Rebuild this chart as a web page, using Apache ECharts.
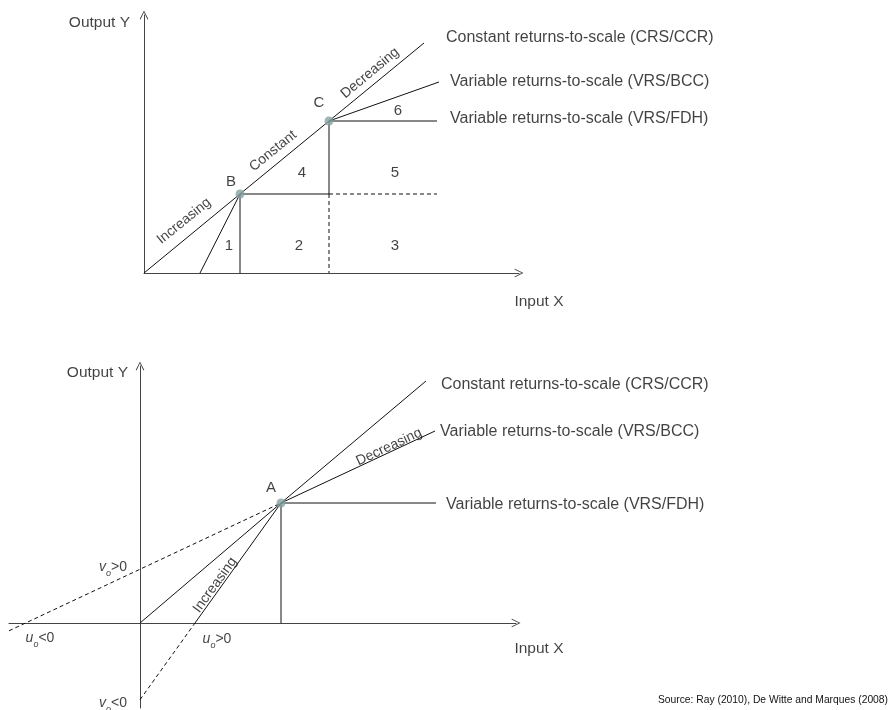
<!DOCTYPE html>
<html>
<head>
<meta charset="utf-8">
<script src="https://cdn.jsdelivr.net/npm/echarts@6/dist/echarts.min.js"></script>
<style>html,body{margin:0;padding:0;background:#fff}#c{width:890px;height:710px}</style>
</head>
<body>
<div id="c"></div>
<script>
// ---------- Top diagram (CRS / VRS-BCC / VRS-FDH with points B and C) ----------
const topOrigin = [0, 0];
const topB = [9.6, 7.9];
const topC = [18.5, 15.2];
const topCrsEnd = [28, 23];
const topVrsStart = [5.6, 0];
const topBccEnd = [29.5, 19.1];
const topFdhEnd = [29.3, 15.2];
const topBFloor = [9.6, 0];
const topCMid = [18.5, 7.9];
const topCFloor = [18.5, 0];
const topDashEnd = [29.3, 7.9];

// ---------- Bottom diagram (point A, intercepts) ----------
const botOrigin = [0, 0];
const botA = [14.1, 12.0];
const botCrsEnd = [28.6, 24.2];
const botSteepXCross = [5.5, 0];
const botSteepYCross = [0, -7.67];
const botShallowLeft = [-13.1, -0.78];
const botShallowRight = [29.5, 19.2];
const botFdhEnd = [29.6, 12.0];
const botAFloor = [14.1, 0];

// ---------- Texts ----------
const frontierNames = ['Constant returns-to-scale (CRS/CCR)', 'Variable returns-to-scale (VRS/BCC)', 'Variable returns-to-scale (VRS/FDH)'];
const regionNames = ['1', '2', '3', '4', '5', '6'];
const scaleNames = ['Increasing', 'Constant', 'Decreasing'];
const pointNames = ['A', 'B', 'C'];
const axisNames = ['Output Y', 'Input X'];
const sourceText = 'Source: Ray (2010), De Witte and Marques (2008)';

const LINE = '#111';
const AXIS = '#444';
const TXT = '#111';
const DOT = '#86a3a3';
const FONT = '"Liberation Sans", Arial, Helvetica, sans-serif';
const chevron = 'path://M0,9 L4.5,0 L9,9 L8.1,9.4 L4.5,1.9 L0.9,9.4 Z';

function seg(p, q, gi, dashed) {
  return {
    type: 'line', xAxisIndex: gi, yAxisIndex: gi,
    data: [p, q], showSymbol: false, symbol: 'none', silent: true,
    lineStyle: { color: LINE, width: 1, type: dashed ? [4, 3] : 'solid' },
    z: 3
  };
}

function lbl(text, x, y, opts) {
  opts = opts || {};
  return {
    value: [x, y],
    label: Object.assign({
      show: true, formatter: text, position: 'inside',
      color: TXT, fontSize: 15, fontFamily: FONT
    }, opts)
  };
}

function labelSeries(gi, items) {
  return {
    type: 'scatter', xAxisIndex: gi, yAxisIndex: gi, symbolSize: 0,
    clip: false, silent: true, data: items, z: 5
  };
}

function dotSeries(gi, pts) {
  return {
    type: 'scatter', xAxisIndex: gi, yAxisIndex: gi, symbolSize: 9, clip: false, silent: true,
    itemStyle: { color: DOT }, data: pts, z: 6
  };
}

const sub = (a, b) => '{v|' + a + '}{s|o}{n|' + b + '}';
const subRich = {
  v: { fontStyle: 'italic', fontSize: 14, color: TXT, fontFamily: FONT, lineHeight: 22, verticalAlign: 'middle' },
  s: { fontStyle: 'italic', fontSize: 9, color: TXT, fontFamily: FONT, lineHeight: 22, verticalAlign: 'bottom' },
  n: { fontSize: 14, color: TXT, fontFamily: FONT, lineHeight: 22, verticalAlign: 'middle' }
};

const rightL = { position: 'right', distance: 0, align: 'left', fontSize: 16 };
const leftL = { position: 'left', distance: 0, fontSize: 15.5 };
const rot = (deg) => ({ rotate: deg, fontSize: 14 });

function mkAxis(min, max, gi) {
  return {
    type: 'value', gridIndex: gi, min: min, max: max,
    axisLine: { show: true, onZero: true, lineStyle: { color: AXIS, width: 1 }, symbol: ['none', chevron], symbolSize: [9, 9] },
    axisTick: { show: false }, axisLabel: { show: false }, splitLine: { show: false }
  };
}

const option = {
  animation: false,
  backgroundColor: '#fff',
  textStyle: { fontFamily: FONT },
  title: {
    text: sourceText, right: -3, bottom: 0,
    textStyle: { fontSize: 10.3, fontWeight: 'normal', color: TXT, fontFamily: FONT }
  },
  grid: [
    { left: 144, top: 15, width: 375, height: 258 },
    { left: 9, top: 366, width: 507, height: 342 }
  ],
  xAxis: [mkAxis(0, 37.5, 0), mkAxis(-13.1, 37.6, 1)],
  yAxis: [mkAxis(0, 25.8, 0), mkAxis(-8.5, 25.7, 1)],
  series: [
    // top lines
    seg(topOrigin, topB, 0), seg(topB, topC, 0), seg(topC, topCrsEnd, 0),
    seg(topVrsStart, topB, 0), seg(topC, topBccEnd, 0), seg(topC, topFdhEnd, 0),
    seg(topBFloor, topB, 0), seg(topB, topCMid, 0), seg(topCMid, topDashEnd, 0, true),
    seg(topC, topCMid, 0), seg(topCMid, topCFloor, 0, true),
    dotSeries(0, [topB, topC]),
    labelSeries(0, [
      lbl(scaleNames[0], 4.0, 5.2, rot(39)),
      lbl(scaleNames[1], 12.9, 12.2, rot(39)),
      lbl(scaleNames[2], 22.6, 20.0, rot(40)),
      lbl(pointNames[1], 8.7, 9.1),
      lbl(pointNames[2], 17.5, 17.0),
      lbl(regionNames[0], 8.5, 2.7),
      lbl(regionNames[1], 15.5, 2.7),
      lbl(regionNames[2], 25.1, 2.7),
      lbl(regionNames[3], 15.8, 10.0),
      lbl(regionNames[4], 25.1, 10.0),
      lbl(regionNames[5], 25.4, 16.2),
      lbl(frontierNames[0], 30.2, 23.5, rightL),
      lbl(frontierNames[1], 30.6, 19.1, rightL),
      lbl(frontierNames[2], 30.6, 15.4, rightL),
      lbl(axisNames[0], -1.4, 25.0, leftL),
      lbl(axisNames[1], 39.5, -2.9, { fontSize: 15.5 })
    ]),
    // bottom lines
    seg(botOrigin, botA, 1), seg(botA, botCrsEnd, 1),
    seg(botSteepXCross, botA, 1), seg(botSteepYCross, botSteepXCross, 1, true),
    seg(botShallowLeft, botA, 1, true), seg(botA, botShallowRight, 1),
    seg(botA, botFdhEnd, 1), seg(botAFloor, botA, 1),
    dotSeries(1, [botA]),
    labelSeries(1, [
      lbl(scaleNames[2], 24.9, 17.6, rot(25)),
      lbl(scaleNames[0], 7.5, 3.8, rot(54)),
      lbl(pointNames[0], 13.1, 13.5),
      lbl(sub('v', '>0'), -2.7, 5.6, { rich: subRich }),
      lbl(sub('u', '<0'), -10.0, -1.5, { rich: subRich }),
      lbl(sub('u', '>0'), 7.7, -1.6, { rich: subRich }),
      lbl(sub('v', '<0'), -2.7, -8.0, { rich: subRich }),
      lbl(frontierNames[0], 30.1, 23.8, rightL),
      lbl(frontierNames[1], 30.0, 19.1, rightL),
      lbl(frontierNames[2], 30.6, 11.8, rightL),
      lbl(axisNames[0], -1.2, 25.0, leftL),
      lbl(axisNames[1], 39.9, -2.6, { fontSize: 15.5 })
    ])
  ]
};

const chart = echarts.init(document.getElementById('c'), null, { renderer: 'canvas' });
chart.setOption(option);
</script>
</body>
</html>
